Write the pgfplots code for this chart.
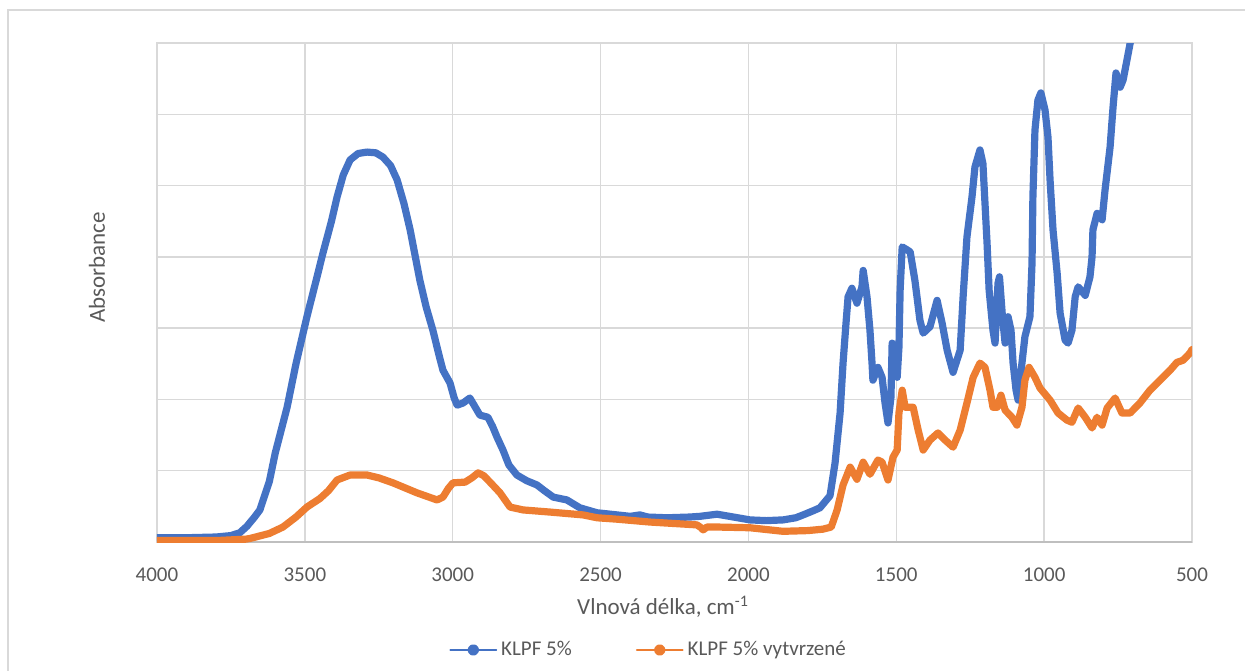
\documentclass[border=0pt]{standalone}
\usepackage{pgfplots}
\pgfplotsset{compat=1.18}
\usepackage{fontspec}
\setmainfont{Carlito}
\definecolor{exblue}{HTML}{4472C4}
\definecolor{exorange}{HTML}{ED7D31}
\definecolor{gridgrey}{HTML}{D9D9D9}
\definecolor{axisgrey}{HTML}{BFBFBF}
\definecolor{labelgrey}{HTML}{595959}
\begin{document}
\begin{tikzpicture}[x=1pt,y=1pt]
\useasboundingbox (0,0) rectangle (622.5,335);
\draw[gridgrey, line width=0.8pt] (4,-20) -- (4,330) -- (700,330);
\begin{axis}[
  at={(78.5pt,64pt)}, anchor=south west,
  width=517.5pt, height=249.5pt, scale only axis,
  xmin=500, xmax=4000, ymin=0, ymax=7,
  x dir=reverse,
  xtick={500,1000,...,4000},
  ytick={1,2,...,7}, yticklabels={},
  extra y ticks={0}, extra y tick labels={},
  extra y tick style={grid style={draw=axisgrey, line width=1pt}},
  grid=major, grid style={draw=gridgrey, line width=0.75pt},
  axis line style={draw=gridgrey, line width=0.75pt},
  major tick length=0pt,
  /pgf/number format/assume math mode=true,
  /pgf/number format/1000 sep={},
  tick label style={font=\fontsize{10.5}{12}\selectfont, text=labelgrey},
  xticklabel style={anchor=center, yshift=-16.5pt},
  xlabel={Vlnová délka, cm\textsuperscript{-1}},
  ylabel={Absorbance},
  label style={font=\fontsize{11.5}{13}\selectfont, text=labelgrey},
  xlabel style={at={(axis description cs:0.489,-0.130)}, anchor=center},
  ylabel style={at={(axis description cs:-0.058,0.55)}, anchor=center},
  legend style={draw=none, fill=none, at={(axis description cs:0.476,-0.2164)}, anchor=center,
    font=\fontsize{10.5}{12}\selectfont, text=labelgrey, legend columns=2,
    /tikz/every even column/.append style={column sep=30pt}},
  legend image code/.code={\draw[#1, line width=0.9pt] (0pt,0pt) -- (23pt,0pt); \fill[#1] (11.5pt,0pt) circle (1.05pt);},
]
\addplot[color=exblue, line width=3.6pt, line join=round, line cap=round] coordinates {
(4000,0.06) (3900,0.06) (3800,0.07) (3750,0.09) (3720,0.13) (3696,0.22) (3670,0.35) (3652,0.45)
(3620,0.85) (3600,1.25) (3560,1.89) (3530,2.5) (3493,3.16) (3460,3.7) (3439,4.05) (3410,4.5)
(3391,4.84) (3370,5.15) (3347,5.36) (3320,5.45) (3290,5.47) (3260,5.46) (3236,5.40) (3210,5.28)
(3188,5.08) (3165,4.75) (3144,4.38) (3111,3.67) (3090,3.30) (3067,2.97) (3045,2.6) (3033,2.41)
(3009,2.23) (2995,2.02) (2985,1.92) (2965,1.95) (2942,2.02) (2925,1.90) (2908,1.78) (2881,1.75)
(2865,1.62) (2850,1.47) (2830,1.29) (2810,1.08) (2783,0.94) (2750,0.86) (2715,0.80) (2690,0.72)
(2660,0.63) (2614,0.59) (2590,0.53) (2570,0.48) (2512,0.41) (2444,0.38) (2400,0.36) (2367,0.38)
(2340,0.35) (2275,0.34) (2200,0.35) (2164,0.36) (2106,0.39) (2050,0.35) (1995,0.31) (1940,0.30)
(1883,0.31) (1840,0.34) (1815,0.38) (1780,0.44) (1758,0.48) (1740,0.57) (1724,0.65) (1707,1.11)
(1690,1.81) (1680,2.51) (1670,3.07) (1663,3.44) (1650,3.56) (1633,3.35) (1616,3.58) (1612,3.81)
(1599,3.44) (1589,2.97) (1582,2.51) (1579,2.27) (1562,2.45) (1548,2.31) (1538,1.95) (1528,1.67)
(1518,2.03) (1514,2.79) (1504,2.55) (1497,2.31) (1491,2.73) (1487,3.53) (1480,4.14) (1464,4.10)
(1453,4.07) (1437,3.67) (1420,3.11) (1409,2.93) (1386,3.02) (1362,3.39) (1345,3.07) (1328,2.69)
(1308,2.38) (1284,2.69) (1274,3.44) (1261,4.28) (1244,4.84) (1234,5.26) (1217,5.50) (1207,5.31)
(1200,4.75) (1193,4.19) (1186,3.53) (1173,2.97) (1166,2.79) (1156,3.63) (1151,3.72) (1141,3.16)
(1132,2.79) (1122,3.16) (1112,2.97) (1105,2.51) (1095,2.13) (1088,1.99) (1075,2.51) (1065,2.88)
(1048,3.16) (1041,3.91) (1038,4.84) (1031,5.78) (1021,6.20) (1011,6.30) (997,6.06) (987,5.68)
(980,5.08) (970,4.38) (956,3.77) (946,3.21) (929,2.83) (919,2.79) (906,2.97) (895,3.44)
(885,3.58) (861,3.46) (845,3.72) (838,4.00) (835,4.38) (821,4.61) (804,4.52) (794,4.94)
(777,5.54) (767,6.10) (757,6.58) (743,6.38) (733,6.48) (720,6.76) (709,7.0) (700,7.2)
};
\addlegendentry{KLPF 5\%}
\addplot[color=exorange, line width=3.6pt, line join=round, line cap=round] coordinates {
(4000,0.02) (3800,0.02) (3700,0.04) (3685,0.05) (3620,0.12) (3574,0.21) (3530,0.35) (3493,0.49)
(3449,0.61) (3420,0.72) (3391,0.87) (3347,0.94) (3290,0.94) (3250,0.90) (3202,0.83) (3121,0.69)
(3053,0.59) (3033,0.63) (3015,0.75) (2999,0.83) (2958,0.84) (2935,0.90) (2914,0.97) (2895,0.93)
(2874,0.84) (2840,0.69) (2806,0.49) (2762,0.45) (2671,0.42) (2559,0.38) (2512,0.34) (2444,0.32)
(2333,0.28) (2174,0.24) (2160,0.20) (2153,0.17) (2140,0.21) (2106,0.21) (1995,0.20) (1883,0.15)
(1800,0.16) (1748,0.18) (1720,0.21) (1700,0.45) (1680,0.80) (1656,1.05) (1633,0.88) (1612,1.12)
(1589,0.95) (1562,1.15) (1548,1.12) (1528,0.87) (1511,1.19) (1497,1.29) (1491,1.81) (1480,2.13)
(1470,1.89) (1443,1.89) (1426,1.57) (1409,1.29) (1386,1.43) (1359,1.53) (1335,1.43) (1308,1.33)
(1284,1.57) (1261,1.95) (1240,2.31) (1217,2.51) (1200,2.45) (1183,2.13) (1173,1.89) (1159,1.89)
(1146,2.06) (1132,1.85) (1109,1.75) (1092,1.64) (1075,1.89) (1065,2.27) (1051,2.45) (1031,2.31)
(1014,2.16) (980,1.99) (953,1.81) (923,1.71) (906,1.68) (885,1.88) (861,1.75) (838,1.60)
(821,1.75) (804,1.64) (787,1.88) (760,2.02) (737,1.81) (709,1.81) (676,1.95) (642,2.13)
(608,2.27) (574,2.41) (551,2.52) (530,2.55) (507,2.65) (500,2.70)
};
\addlegendentry{KLPF 5\% vytvrzené}
\end{axis}
\end{tikzpicture}
\end{document}
